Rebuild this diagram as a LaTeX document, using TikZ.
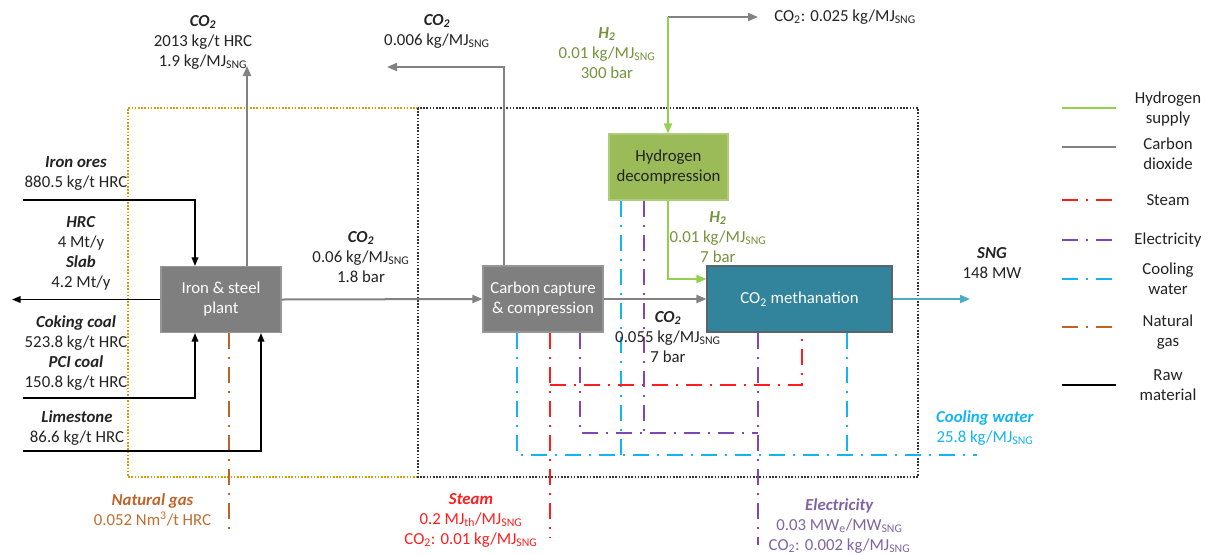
\documentclass[tikz,border=0pt]{standalone}
\usepackage{fontspec}
\setmainfont{Carlito}
\usetikzlibrary{arrows.meta}
\definecolor{txt}{RGB}{35,35,35}
\definecolor{boxgray}{RGB}{127,127,127}
\definecolor{boxgrayb}{RGB}{150,150,150}
\definecolor{linegray}{RGB}{130,130,130}
\definecolor{htwogreen}{RGB}{146,208,80}
\definecolor{htwobox}{RGB}{155,187,89}
\definecolor{htwoboxb}{RGB}{175,205,120}
\definecolor{htwotext}{RGB}{118,146,60}
\definecolor{methteal}{RGB}{49,132,155}
\definecolor{methborder}{RGB}{90,100,105}
\definecolor{sngblue}{RGB}{75,172,198}
\definecolor{coolc}{RGB}{20,180,240}
\definecolor{elecc}{RGB}{128,70,180}
\definecolor{electext}{RGB}{128,100,162}
\definecolor{steamc}{RGB}{255,30,30}
\definecolor{ngasc}{RGB}{190,100,40}
\definecolor{ngtext}{RGB}{192,110,50}
\definecolor{plantdot}{RGB}{214,160,0}
\newcommand{\subSNG}{\textsubscript{SNG}}
\newcommand{\bi}[1]{\textbf{\textit{#1}}}
\begin{document}
\begin{tikzpicture}[x=0.75pt,y=-0.75pt,
  font=\fontsize{12.6}{15}\selectfont, text=txt,
  lbl/.style={align=center, inner sep=0pt},
  proc/.style={line width=0.8pt, align=center, inner sep=0pt, minimum height=49.5pt},
  arr/.style={-{Triangle[length=7.5pt,width=6pt]}},
  rawarr/.style={-{Triangle[length=6.5pt,width=5pt]}},
  gflow/.style={draw=linegray, line width=1.5pt},
  rawflow/.style={draw=black, line width=1.1pt},
  hflow/.style={draw=htwogreen, line width=1.5pt},
  dd/.style={line width=1.3pt, dash pattern=on 12pt off 6pt on 1.5pt off 6pt},
  cw/.style={dd, draw=coolc},
  el/.style={dd, draw=elecc},
  st/.style={dd, draw=steamc},
  ngl/.style={dd, draw=ngasc},
  bound/.style={line width=1.1pt, dash pattern=on 1.2pt off 1.2pt}
]
\useasboundingbox (0,0) rectangle (1209,554);

% boundary boxes
\draw[bound, draw=plantdot] (418,108) -- (128,108) -- (128,477) -- (418,477);
\draw[bound, draw=black!80] (418,108) rectangle (918,477);

% process boxes
\node[proc, draw=boxgrayb, fill=boxgray, text=white, minimum width=90pt] (iron) at (221,299.5) {Iron \& steel\\plant};
\node[proc, draw=boxgrayb, fill=boxgray, text=white, minimum width=90pt] (cc) at (543,299) {Carbon capture\\\& compression};
\node[proc, draw=htwoboxb, fill=htwobox, text=txt, minimum width=89.25pt] (hd) at (668.5,167) {Hydrogen\\decompression};
\node[proc, draw=methborder, fill=methteal, text=white, minimum width=138.75pt] (meth) at (799.5,299) {CO\textsubscript{2} methanation};

% coordinates
\coordinate (co2a) at (247,66);
\coordinate (ore) at (23,200);
\coordinate (orex) at (195,0);
\coordinate (hrcout) at (12,299.5);
\coordinate (coal) at (23,398);
\coordinate (lime) at (23,451);
\coordinate (limex) at (261,0);
\coordinate (ng) at (229,530);
\coordinate (ccx) at (504,0);
\coordinate (cc2) at (387,67);
\coordinate (h2top) at (668,17);
\coordinate (co2vent) at (758,17);
\coordinate (h2in) at (0,279);
\coordinate (sngout) at (970,299);
\coordinate (cwa) at (517,455);
\coordinate (cwb) at (621,455);
\coordinate (cwc) at (847,455);
\coordinate (cwend) at (977,455);
\coordinate (ela) at (580,433);
\coordinate (elb) at (644,433);
\coordinate (elc) at (758,433);
\coordinate (elend) at (758,545);
\coordinate (sta) at (550,385);
\coordinate (stb) at (802,385);
\coordinate (stend) at (550,538);

% utilities
\draw[cw] (cwa |- cc.south) -- (cwa) -- (cwend);
\draw[cw] (cwb |- hd.south) -- (cwb);
\draw[cw] (cwc |- meth.south) -- (cwc);
\draw[st] (sta |- cc.south) -- (stend);
\draw[st] (sta) -- (stb) -- (stb |- meth.south);
\draw[el] (ela |- cc.south) -- (ela) -- (elc);
\draw[el] (elb |- hd.south) -- (elb);
\draw[el] (elc |- meth.south) -- (elend);
\draw[ngl] (ng |- iron.south) -- (ng);

% raw materials
\draw[rawflow, rawarr] (ore) -| (orex |- iron.north);
\draw[rawflow, rawarr] (iron.west) -- (hrcout);
\draw[rawflow, rawarr] (coal) -| (orex |- iron.south);
\draw[rawflow, rawarr] (lime) -| (limex |- iron.south);

% CO2 flows
\draw[gflow, arr] (co2a |- iron.north) -- (co2a);
\draw[gflow, arr] (iron.east) -- (cc.west);
\draw[gflow, arr] (ccx |- cc.north) |- (cc2);
\draw[gflow, arr] (cc.east) -- (meth.west);
\draw[gflow, arr] (h2top) -- (co2vent);

% hydrogen
\draw[hflow, arr] (h2top) -- (h2top |- hd.north);
\draw[hflow, arr] (h2top |- hd.south) |- (meth.west |- h2in);

% SNG
\draw[draw=sngblue, line width=1.5pt, arr] (meth.east) -- (sngout);

% labels
\node[lbl] (lco2a) at (203,42) {\bi{CO\textsubscript{2}}\\2013 kg/t HRC\\1.9 kg/MJ\subSNG};
\node[lbl] (lco2b) at (437,31) {\bi{CO\textsubscript{2}}\\0.006 kg/MJ\subSNG};
\node[lbl, anchor=west] (lvent) at (774,17) {CO\textsubscript{2}: 0.025 kg/MJ\subSNG};
\node[lbl, text=htwotext] (lh2a) at (607,53) {\bi{H\textsubscript{2}}\\0.01 kg/MJ\subSNG\\300 bar};
\node[lbl, text=htwotext] (lh2b) at (718,237) {\bi{H\textsubscript{2}}\\0.01 kg/MJ\subSNG\\7 bar};
\node[lbl] (lco2c) at (361,257) {\bi{CO\textsubscript{2}}\\0.06 kg/MJ\subSNG\\1.8 bar};
\node[lbl] (lco2d) at (668,337) {\bi{CO\textsubscript{2}}\\0.055 kg/MJ\subSNG\\7 bar};
\node[lbl] (lsng) at (992,263) {\bi{SNG}\\148 MW};
\node[lbl] (lore) at (76,173) {\bi{Iron ores}\\880.5 kg/t HRC};
\node[lbl] (lhrc) at (81,253) {\bi{HRC}\\4 Mt/y\\\bi{Slab}\\4.2 Mt/y};
\node[lbl] (lcoal) at (76,353) {\bi{Coking coal}\\523.8 kg/t HRC\\\bi{PCI coal}\\150.8 kg/t HRC};
\node[lbl] (llime) at (77,428) {\bi{Limestone}\\86.6 kg/t HRC};
\node[lbl, text=ngtext] (lng) at (152.5,510) {\textcolor{ngasc}{\bi{Natural gas}}\\0.052 Nm\textsuperscript{3}/t HRC};
\node[lbl, text=steamc] (lst) at (471,520) {\bi{Steam}\\0.2 MJ\textsubscript{th}/MJ\subSNG\\CO\textsubscript{2}: 0.01 kg/MJ\subSNG};
\node[lbl, text=electext] (lel) at (839.5,526) {\bi{Electricity}\\0.03 MW\textsubscript{e}/MW\subSNG\\CO\textsubscript{2}: 0.002 kg/MJ\subSNG};
\node[lbl, text=coolc] (lcw) at (985,428) {\bi{Cooling water}\\25.8 kg/MJ\subSNG};

% legend
\draw[draw=htwogreen, line width=1.5pt] (1062,108) -- (1116,108);
\node[lbl] (g1) at (1168,109) {Hydrogen\\supply};
\draw[draw=linegray, line width=1.5pt] (1062,147) -- (1116,147);
\node[lbl] (g2) at (1168,154) {Carbon\\dioxide};
\draw[st] (1062,200) -- (1116,200);
\node[lbl] (g3) at (1168,200) {Steam};
\draw[el] (1062,240) -- (1116,240);
\node[lbl] (g4) at (1168,240) {Electricity};
\draw[cw] (1062,279) -- (1116,279);
\node[lbl] (g5) at (1168,279) {Cooling\\water};
\draw[ngl] (1062,327) -- (1116,327);
\node[lbl] (g6) at (1168,332) {Natural\\gas};
\draw[draw=black, line width=1.5pt] (1062,385) -- (1116,385);
\node[lbl] (g7) at (1168,385) {Raw\\material};
\end{tikzpicture}
\end{document}
